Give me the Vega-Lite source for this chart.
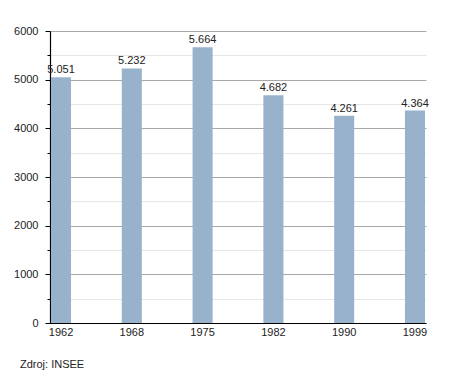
{
  "$schema": "https://vega.github.io/schema/vega-lite/v6.json",
  "autosize": "none",
  "width": 376,
  "height": 292,
  "padding": {"left": 50, "top": 31, "right": 29, "bottom": 50},
  "background": "white",
  "config": {
    "font": "Liberation Sans",
    "view": {"stroke": null},
    "locale": {"number": {"decimal": ",", "thousands": ".", "grouping": [3], "currency": ["", ""]}}
  },
  "title": {
    "text": "Zdroj: INSEE",
    "orient": "bottom",
    "anchor": "start",
    "frame": "group",
    "dx": -30,
    "offset": 22,
    "fontSize": 11,
    "fontWeight": "normal",
    "color": "#222",
    "font": "Liberation Sans"
  },
  "data": {
    "values": [
      {"year": "1962", "population": 5051},
      {"year": "1968", "population": 5232},
      {"year": "1975", "population": 5664},
      {"year": "1982", "population": 4682},
      {"year": "1990", "population": 4261},
      {"year": "1999", "population": 4364}
    ]
  },
  "encoding": {
    "x": {
      "field": "year",
      "type": "ordinal",
      "scale": {"paddingInner": 0.717, "paddingOuter": 0.014},
      "axis": {
        "title": null,
        "labelAngle": 0,
        "ticks": false,
        "tickSize": 0,
        "labelPadding": 3,
        "labelFontSize": 11,
        "labelColor": "#222",
        "domainColor": "#000",
        "domainWidth": 1.2,
        "grid": false
      }
    },
    "y": {
      "field": "population",
      "type": "quantitative",
      "scale": {"domain": [0, 6000], "nice": false},
      "axis": {
        "title": null,
        "values": [0, 500, 1000, 1500, 2000, 2500, 3000, 3500, 4000, 4500, 5000, 5500, 6000],
        "format": "d",
        "labelExpr": "datum.value % 1000 === 0 ? datum.value : ''",
        "labelFontSize": 11,
        "labelColor": "#222",
        "labelPadding": 7,
        "domainColor": "#000",
        "domainWidth": 1.2,
        "tickColor": "#000",
        "tickSize": {"condition": {"test": "datum.value % 1000 === 0", "value": 5}, "value": 3},
        "grid": true,
        "gridColor": {"condition": {"test": "datum.value % 1000 === 0", "value": "#a8a8a8"}, "value": "#e6e6e6"},
        "gridWidth": 1
      }
    }
  },
  "layer": [
    {"mark": {"type": "bar", "color": "#98b2cc"}},
    {
      "mark": {"type": "text", "baseline": "alphabetic", "dy": -4, "fontSize": 11, "color": "#222"},
      "encoding": {"text": {"field": "population", "type": "quantitative", "format": ",d"}}
    }
  ]
}
